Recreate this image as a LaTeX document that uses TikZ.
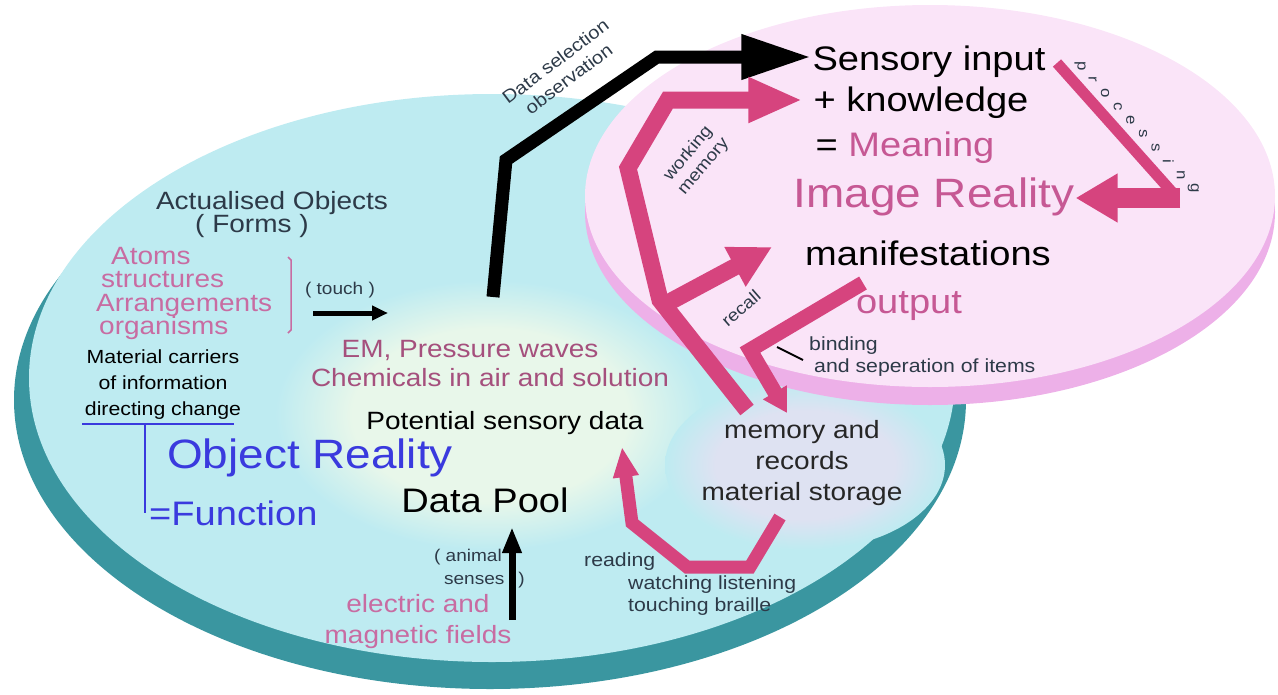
\documentclass[tikz,border=0pt]{standalone}
\usepackage{fontspec}
\setmainfont{Liberation Sans}[FakeStretch=1.12]
\usetikzlibrary{arrows.meta}
\definecolor{facecyan}{RGB}{190,235,241}
\definecolor{rimteal}{RGB}{58,150,160}
\definecolor{poolgreen}{RGB}{232,247,234}
\definecolor{memgrey}{RGB}{222,226,242}
\definecolor{facepink}{RGB}{250,228,248}
\definecolor{rimpink}{RGB}{237,176,232}
\definecolor{arrowpink}{RGB}{214,68,126}
\definecolor{textpink}{RGB}{198,88,148}
\definecolor{textrose}{RGB}{200,108,162}
\definecolor{textmauve}{RGB}{165,80,125}
\definecolor{textblue}{RGB}{58,58,222}
\definecolor{textslate}{RGB}{45,58,72}
\pgfdeclareradialshading{poolfade}{\pgfpoint{0bp}{0bp}}{color(0bp)=(poolgreen); color(16bp)=(poolgreen); color(25bp)=(facecyan); color(50bp)=(facecyan)}
\pgfdeclareradialshading{memfade}{\pgfpoint{0bp}{0bp}}{color(0bp)=(memgrey); color(16bp)=(memgrey); color(25bp)=(facecyan); color(50bp)=(facecyan)}
\tikzset{
  every node/.style={inner sep=1pt},
  title/.style={font=\fontsize{41}{44}\selectfont},
  head/.style={font=\fontsize{34}{38}\selectfont},
  body/.style={font=\fontsize{25}{31}\selectfont},
  note/.style={font=\fontsize{19}{26}\selectfont},
  tiny/.style={font=\fontsize{17}{20}\selectfont},
  letter/.style={font=\fontsize{15}{15}\selectfont, text=textslate},
  pinkfat/.style={draw=arrowpink, line width=17pt},
  blackfat/.style={draw=black, line width=13pt}
}
\begin{document}
\begin{tikzpicture}[x=1pt,y=-1pt]
  \useasboundingbox (0,0) rectangle (1278,694);
  \fill[rimteal] (490,400) ellipse [x radius=476pt, y radius=289pt];
  \fill[facecyan] (492,378) ellipse [x radius=463pt, y radius=284pt];
  \shade[shading=poolfade] (490,415) ellipse [x radius=215pt, y radius=135pt];
  \shade[shading=memfade] (805,465) ellipse [x radius=140pt, y radius=85pt];
  \fill[rimpink] (930,212) ellipse [x radius=345pt, y radius=193pt];
  \fill[facepink] (930,196) ellipse [x radius=345pt, y radius=191pt];

  \node[head] (sens) at (929,62) {Sensory input};
  \node[head] (know) at (921,103) {+ knowledge};
  \node[head] (mean) at (905,148) {= \textcolor{textpink}{Meaning}};
  \node[title, text=textpink] (imgr) at (934,197) {Image Reality};
  \node[head] (manif) at (928,253) {manifestations};
  \node[head, text=textpink] (outp) at (909,306) {output};
  \node[note, text=textslate, anchor=west] (bind) at (808,346) {binding};
  \node[note, text=textslate, anchor=west] (sepr) at (813,368) {and seperation of items};
  \node[body, align=center, text=black!85] (mem) at (802,463) {memory and\\records\\material storage};

  \node[body] (potdata) at (505,423) {Potential sensory data};
  \node[body, text=textmauve] (emwav) at (470,350) {EM, Pressure waves};
  \node[body, text=textmauve] (chem) at (490,378) {Chemicals in air and solution};
  \node[head] (pool) at (485,500) {Data Pool};
  \node[title, text=textblue] (objr) at (310,458) {Object Reality};
  \node[head, text=textblue, anchor=west] (func) at (148,513) {=Function};

  \node[body, text=textslate] (actual) at (272,203) {Actualised Objects};
  \node[body, text=textslate] (forms) at (252,226) {( Forms )};
  \node[body, text=textrose, anchor=west] (atoms) at (110,256) {Atoms};
  \node[body, text=textrose, anchor=west] (struct) at (100,280) {structures};
  \node[body, text=textrose, anchor=west] (arrang) at (95,305) {Arrangements};
  \node[body, text=textrose, anchor=west] (organ) at (98,328) {organisms};
  \node[tiny, text=textslate] (touch) at (340,290) {( touch )};
  \node[note, align=center] (carriers) at (163,385) {Material carriers\\of information\\directing change};

  \node[tiny, text=textslate, anchor=east] (animal) at (503,557) {( animal};
  \node[tiny, text=textslate, anchor=east] (senses) at (526,580) {senses\hspace{14pt})};
  \node[body, text=textrose, align=center] (fields) at (418,622) {electric and\\magnetic fields};
  \node[note, text=textslate, anchor=west] (reading) at (583,562) {reading};
  \node[note, text=textslate, anchor=west] (watching) at (627,585) {watching listening};
  \node[note, text=textslate, anchor=west] (braille) at (627,607) {touching braille};

  \node[tiny, font=\fontsize{18}{22}\selectfont, text=textslate, rotate=37, align=center] (select) at (562,70) {Data selection\\observation};
  \node[tiny, text=textslate, rotate=50, align=center] (working) at (696,160) {working\\memory};
  \node[tiny, text=textslate, rotate=41] (recall) at (741,308) {recall};
  \foreach \ch [count=\i] in {p,r,o,c,e,s,s,i,n,g}
    \node[letter, rotate=-90] (proc\i) at ({1080+(\i-1)*12.6},{66+(\i-1)*13.6}) {\ch};

  \coordinate (selstart) at (493,297);
  \coordinate (selbend) at (506,160);
  \coordinate (selturn) at (657,57);
  \draw[blackfat, -{Triangle[length=70pt, width=42pt]}] (selstart) -- (selbend) -- (selturn) -- (selturn -| sens.west);

  \coordinate (wmstart) at (747,410);
  \coordinate (wmknee) at (660,300);
  \coordinate (wmtop) at (628,168);
  \coordinate (wmcorner) at (668,100);
  \draw[pinkfat, -{Triangle[length=54pt, width=42pt]}, shorten >=10pt] (wmstart) -- (wmknee) -- (wmtop) -- (wmcorner) -- (wmcorner -| know.west);

  \coordinate (recfoot) at (662,306);
  \coordinate (rectip) at (772,247);
  \draw[pinkfat, -{Triangle[length=42pt, width=42pt]}] (recfoot) -- (rectip);

  \coordinate (outstart) at (863,283);
  \coordinate (outknee) at (750,350);
  \coordinate (outtip) at (787,413);
  \draw[pinkfat, line width=15pt, -{Triangle[length=24pt, width=26pt]}] (outstart) -- (outknee) -- (outtip);
  \coordinate (tickfrom) at (803,360);
  \coordinate (tickto) at (777,347);
  \draw[line width=2pt] (tickfrom) -- (tickto);

  \coordinate (readstart) at (780,517);
  \coordinate (reada) at (750,567);
  \coordinate (readb) at (687,567);
  \coordinate (readc) at (632,523);
  \coordinate (readtip) at (622,447);
  \draw[pinkfat, line width=13pt, -{Triangle[length=30pt, width=24pt]}] (readstart) -- (reada) -- (readb) -- (readc) -- (readtip);

  \coordinate (procstart) at (1057,63);
  \coordinate (proccorner) at (1172,192);
  \coordinate (procback) at (1180,198);
  \draw[pinkfat, line width=11pt] (procstart) -- (proccorner);
  \draw[pinkfat, line width=20pt, -{Triangle[length=42pt, width=46pt]}] (procback) -- (procback -| imgr.east);

  \coordinate (touchfrom) at (313,313);
  \coordinate (touchto) at (388,313);
  \draw[line width=5pt, -{Triangle[length=16pt, width=14pt]}] (touchfrom) -- (touchto);
  \coordinate (animalfoot) at (512,620);
  \coordinate (animaltip) at (512,527);
  \draw[line width=7pt, -{Triangle[length=26pt, width=18pt]}] (animalfoot) -- (animaltip);

  \draw[draw=textrose, line width=1.5pt] (288,257) -- (291,260) -- (291,330) -- (288,333);
  \coordinate (ulstart) at (82,424);
  \coordinate (ulend) at (234,424);
  \coordinate (tee) at (145,424);
  \draw[textblue, line width=2.5pt] (ulstart) -- (ulend);
  \draw[textblue, line width=2.5pt] (tee) -- (tee |- func.west);
\end{tikzpicture}
\end{document}
